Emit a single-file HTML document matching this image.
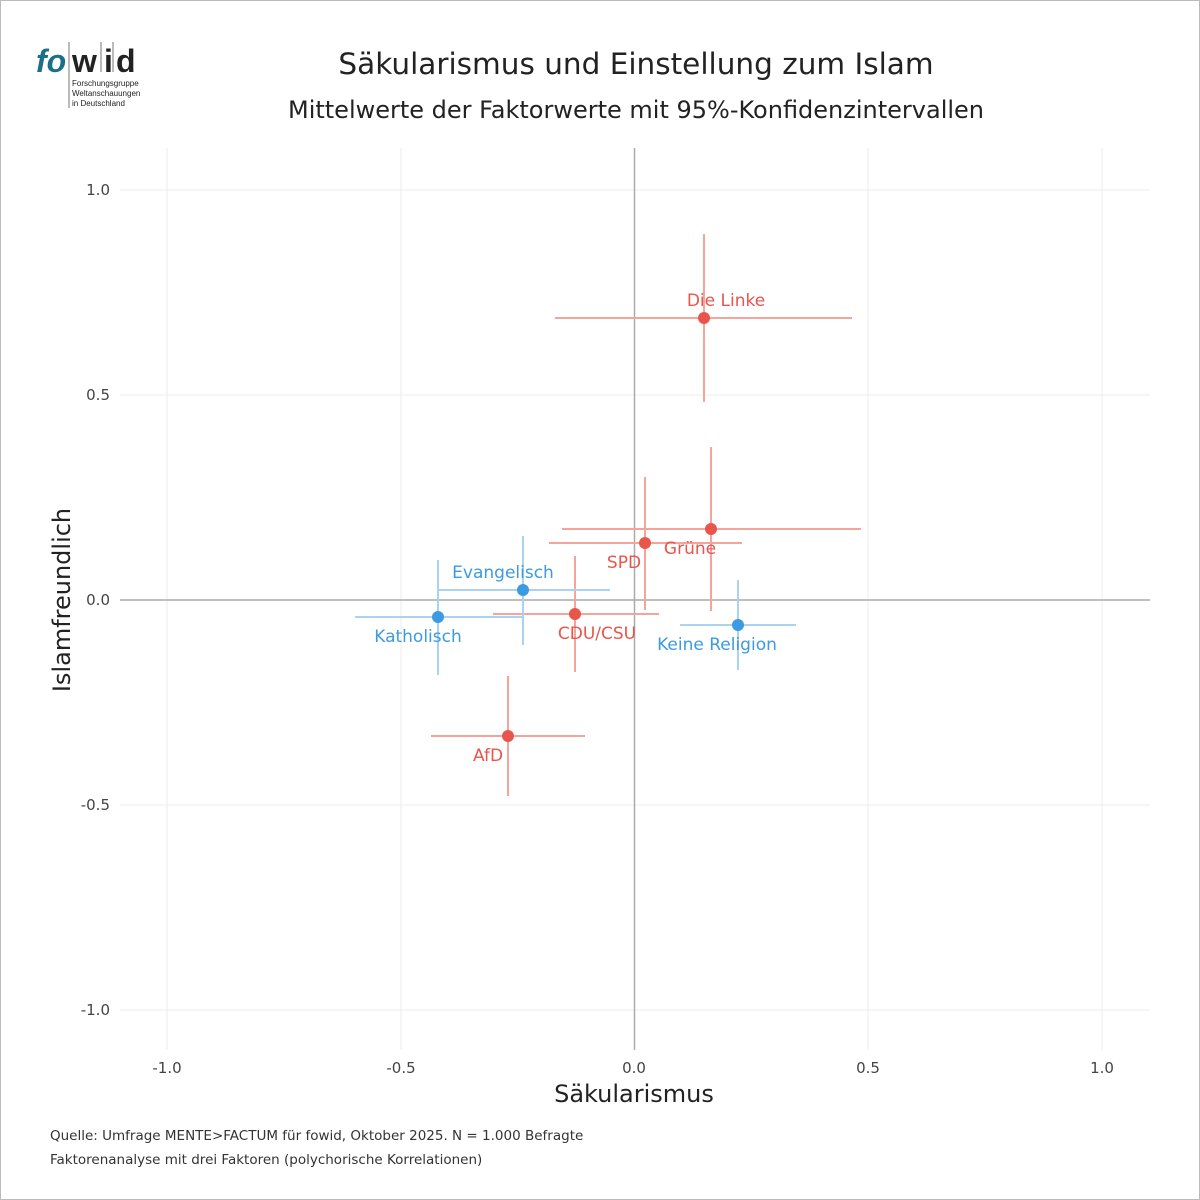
<!DOCTYPE html>
<html><head><meta charset="utf-8"><style>
body{margin:0;background:#fff}
svg{display:block;font-family:"DejaVu Sans","Liberation Sans",sans-serif}
</style></head><body>
<svg width="1200" height="1200" viewBox="0 0 1200 1200">
<rect x="0.5" y="0.5" width="1199" height="1199" fill="#fff" stroke="#bbb"/>
<!-- logo -->
<text x="36" y="72" font-size="32" font-weight="bold" font-style="italic" fill="#1a6f8a" font-family="Liberation Sans,sans-serif">fo</text>
<text x="72" y="72" font-size="32" font-weight="bold" fill="#222" font-family="Liberation Sans,sans-serif">w</text>
<text x="104" y="72" font-size="32" font-weight="bold" fill="#222" font-family="Liberation Sans,sans-serif">i</text>
<text x="116" y="72" font-size="32" font-weight="bold" fill="#222" font-family="Liberation Sans,sans-serif">d</text>
<line x1="69" y1="42" x2="69" y2="108" stroke="#555" stroke-width="0.8"/>
<line x1="101" y1="42" x2="101" y2="72" stroke="#555" stroke-width="0.8"/>
<line x1="113" y1="42" x2="113" y2="72" stroke="#555" stroke-width="0.8"/>
<g font-size="8" fill="#222" font-family="Liberation Sans,sans-serif">
<text x="72" y="86">Forschungsgruppe</text><text x="72" y="96">Weltanschauungen</text><text x="72" y="106">in Deutschland</text></g>
<text x="636" y="74" font-size="29.5" text-anchor="middle" fill="#222">Säkularismus und Einstellung zum Islam</text>
<text x="636" y="118" font-size="24" text-anchor="middle" fill="#222">Mittelwerte der Faktorwerte mit 95%-Konfidenzintervallen</text>
<!-- grid -->
<g stroke="#ececec" stroke-width="1">
<line x1="167" y1="148" x2="167" y2="1050"/><line x1="401" y1="148" x2="401" y2="1050"/><line x1="868" y1="148" x2="868" y2="1050"/><line x1="1102" y1="148" x2="1102" y2="1050"/>
<line x1="120" y1="190" x2="1150" y2="190"/><line x1="120" y1="395" x2="1150" y2="395"/><line x1="120" y1="805" x2="1150" y2="805"/><line x1="120" y1="1010" x2="1150" y2="1010"/>
</g>
<line x1="634.5" y1="148" x2="634.5" y2="1050" stroke="#aaa" stroke-width="1.5"/>
<line x1="120" y1="600" x2="1150" y2="600" stroke="#aaa" stroke-width="1.5"/>
<g font-size="15" fill="#444" text-anchor="end">
<text x="110" y="195">1.0</text><text x="110" y="400">0.5</text><text x="110" y="605">0.0</text><text x="110" y="810">-0.5</text><text x="110" y="1015">-1.0</text></g>
<g font-size="15" fill="#444" text-anchor="middle">
<text x="167" y="1073">-1.0</text><text x="401" y="1073">-0.5</text><text x="634" y="1073">0.0</text><text x="868" y="1073">0.5</text><text x="1102" y="1073">1.0</text></g>
<text x="634" y="1102" font-size="24" text-anchor="middle" fill="#222">Säkularismus</text>
<text transform="translate(70,600) rotate(-90)" font-size="24" text-anchor="middle" fill="#222">Islamfreundlich</text>
<!-- red series -->
<g stroke="#f4a49b" stroke-width="2">
<line x1="555" y1="318" x2="852" y2="318"/><line x1="704" y1="234" x2="704" y2="402"/>
<line x1="562" y1="529" x2="861" y2="529"/><line x1="711" y1="447" x2="711" y2="611"/>
<line x1="549" y1="543" x2="742" y2="543"/><line x1="645" y1="477" x2="645" y2="610"/>
<line x1="493" y1="614" x2="659" y2="614"/><line x1="575" y1="556" x2="575" y2="672"/>
<line x1="431" y1="736" x2="585" y2="736"/><line x1="508" y1="676" x2="508" y2="796"/>
</g>
<g stroke="#a9d3f0" stroke-width="2">
<line x1="437" y1="590" x2="610" y2="590"/><line x1="523" y1="536" x2="523" y2="645"/>
<line x1="355" y1="617" x2="523" y2="617"/><line x1="438" y1="560" x2="438" y2="675"/>
<line x1="680" y1="625" x2="796" y2="625"/><line x1="738" y1="580" x2="738" y2="670"/>
</g>
<g fill="#e8554a">
<circle cx="704" cy="318" r="6"/><circle cx="711" cy="529" r="6"/><circle cx="645" cy="543" r="6"/><circle cx="575" cy="614" r="6"/><circle cx="508" cy="736" r="6"/></g>
<g fill="#3c9ae0">
<circle cx="523" cy="590" r="6"/><circle cx="438" cy="617" r="6"/><circle cx="738" cy="625" r="6"/></g>
<g font-size="17" fill="#e8554a" text-anchor="middle">
<text x="726" y="306">Die Linke</text><text x="690" y="554">Grüne</text><text x="624" y="568">SPD</text><text x="597" y="639">CDU/CSU</text><text x="488" y="761">AfD</text></g>
<g font-size="17" fill="#3c9ae0" text-anchor="middle">
<text x="503" y="578">Evangelisch</text><text x="418" y="642">Katholisch</text><text x="717" y="650">Keine Religion</text></g>
<text x="50" y="1140" font-size="13.5" fill="#333">Quelle: Umfrage MENTE&gt;FACTUM für fowid, Oktober 2025. N = 1.000 Befragte</text>
<text x="50" y="1164" font-size="13.5" fill="#333">Faktorenanalyse mit drei Faktoren (polychorische Korrelationen)</text>
</svg>
</body></html>
